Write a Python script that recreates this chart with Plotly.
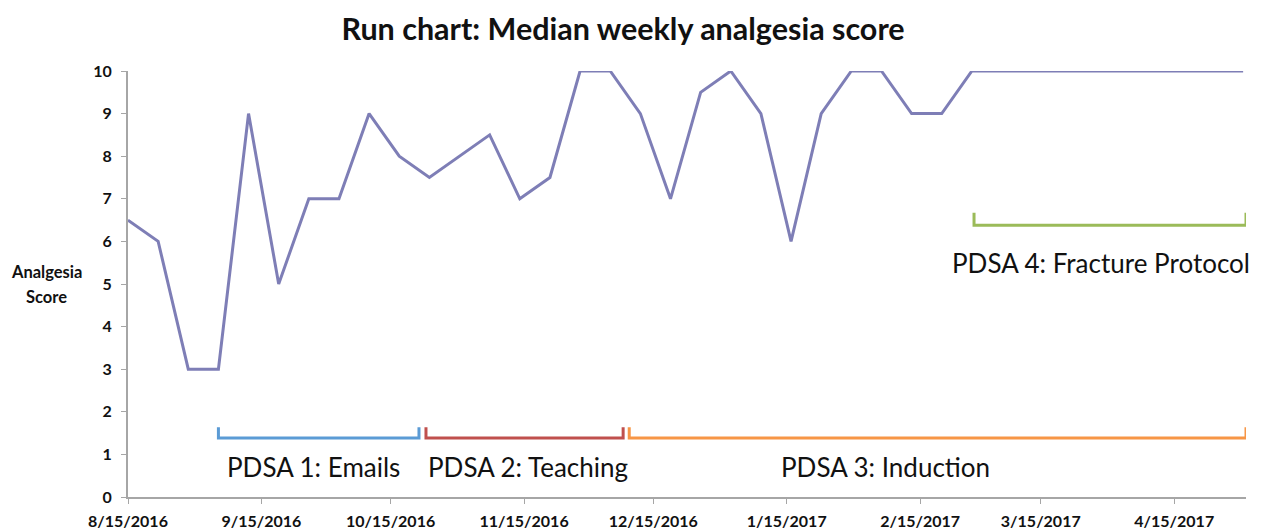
import plotly.graph_objects as go
import pandas as pd

# ---- data ----
start_date = "2016-08-15"
n_weeks = 38
scores = [6.5, 6, 3, 3, 9, 5, 7, 7, 9, 8,
          7.5, 8, 8.5, 7, 7.5, 10, 10, 9, 7, 9.5,
          10, 9, 6, 9, 10, 10, 9, 9, 10, 10,
          10, 10, 10, 10, 10, 10, 10, 10]
weeks = pd.date_range(start_date, periods=n_weeks, freq="7D")

tick_vals = ["2016-08-15", "2016-09-15", "2016-10-15", "2016-11-15", "2016-12-15",
             "2017-01-15", "2017-02-15", "2017-03-15", "2017-04-15"]
tick_text = ["8/15/2016", "9/15/2016", "10/15/2016", "11/15/2016", "12/15/2016",
             "1/15/2017", "2/15/2017", "3/15/2017", "4/15/2017"]
y_ticks = list(range(0, 11))

pdsa_labels = ["PDSA 1: Emails", "PDSA 2: Teaching", "PDSA 3: Induction", "PDSA 4: Fracture Protocol"]
pdsa_start = ["2016-09-05", "2016-10-23T05:00", "2016-12-09T10:00", "2017-02-27T12:00"]
pdsa_end = ["2016-10-21T14:00", "2016-12-08", "2017-05-01T16:00", "2017-05-01T16:00"]
pdsa_bottom = [1.385, 1.385, 1.385, 6.38]
pdsa_top = [1.64, 1.64, 1.64, 6.67]
pdsa_label_x = ["2016-09-27", "2016-11-16", "2017-02-07", "2017-03-29"]
pdsa_label_y = [0.70, 0.70, 0.70, 5.49]
pdsa_colors = ["#5B9BD5", "#C0504D", "#F79646", "#9BBB59"]

y_title_lines = ["Analgesia", "Score"]

x_range = ["2016-08-15", "2017-05-01T16:00"]

# page body has an 8px margin; figure is offset by it
W, H = 1255, 523
L, R, T, B = 120, 17, 63, 34

# ---- figure ----
fig = go.Figure()
fig.add_trace(go.Scatter(x=weeks, y=scores, mode="lines",
                         line=dict(color="#7E7EB6", width=3),
                         showlegend=False, hoverinfo="x+y"))

for lab, s, e, b, t, lx, ly, c in zip(pdsa_labels, pdsa_start, pdsa_end, pdsa_bottom,
                                       pdsa_top, pdsa_label_x, pdsa_label_y, pdsa_colors):
    fig.add_trace(go.Scatter(x=[s, s, e, e], y=[t, b, b, t], mode="lines",
                             line=dict(color=c, width=3), showlegend=False,
                             hoverinfo="skip"))
    fig.add_annotation(x=lx, y=ly, xref="x", yref="y", text=lab, showarrow=False,
                       font=dict(family="Lato", size=26, color="#111111"),
                       xanchor="center", yanchor="middle")

# y-axis title lines (screen px centres)
pw, ph = W - L - R, H - T - B
for txt, sy in zip(y_title_lines, [272, 297]):
    fig.add_annotation(x=(38 - L) / pw, y=(H - B - (sy - 8)) / ph, xref="paper", yref="paper",
                       text=txt, showarrow=False, xanchor="center", yanchor="middle",
                       font=dict(family="Lato", size=16.5, color="#111111", weight="bold"))

fig.update_layout(
    width=W, height=H,
    margin=dict(l=L, r=R, t=T, b=B, autoexpand=False),
    paper_bgcolor="white", plot_bgcolor="white",
    title=dict(text="Run chart: Median weekly analgesia score",
               x=(623 - 8) / W, xanchor="center", y=1 - 21 / H, yanchor="middle",
               font=dict(family="Lato", size=30.5, color="#111111", weight="bold")),
    xaxis=dict(range=x_range, type="date", tickvals=tick_vals, ticktext=tick_text,
               showgrid=False, zeroline=False, showline=True, linecolor="#A6A6A6",
               linewidth=2, ticks="outside", tickcolor="#A6A6A6", ticklen=5,
               automargin=False, ticklabelstandoff=4,
               tickfont=dict(family="Lato", size=16, color="#111111", weight="bold")),
    yaxis=dict(range=[0, 10], tickvals=y_ticks, showgrid=False, zeroline=False,
               showline=True, linecolor="#A6A6A6", linewidth=2, ticks="outside",
               tickcolor="#A6A6A6", ticklen=5, ticklabelstandoff=6, automargin=False,
               tickfont=dict(family="Lato", size=16, color="#111111", weight="bold")),
)

fig.write_html("out.html")
